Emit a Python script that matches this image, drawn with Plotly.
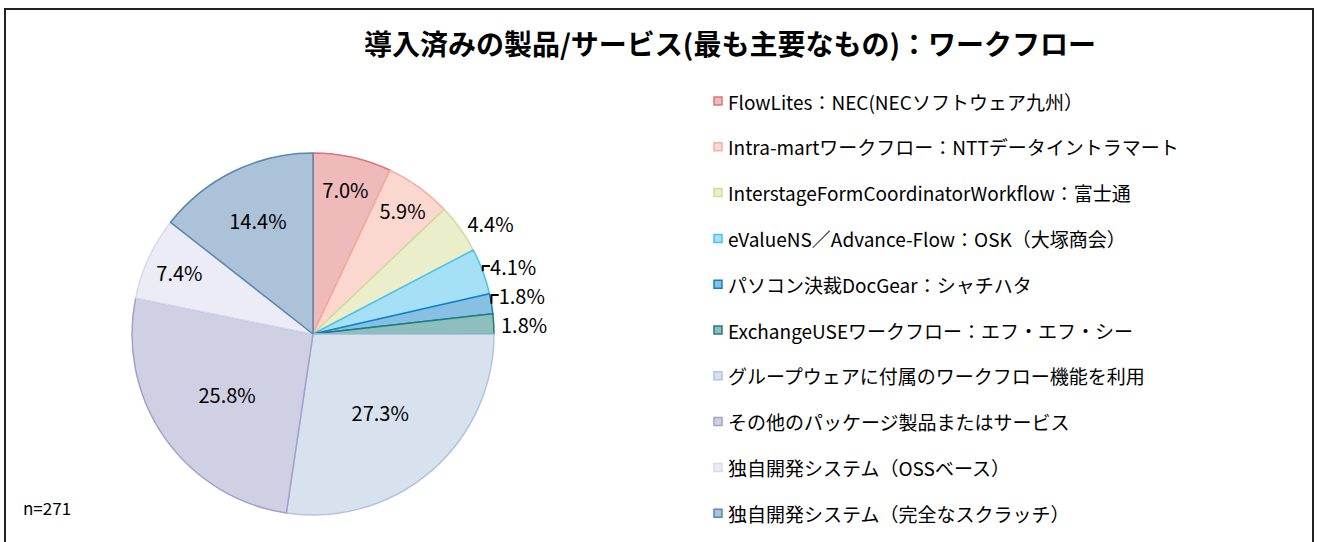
import plotly.graph_objects as go

W, H = 1318, 542

categories = [
    "FlowLites：NEC(NECソフトウェア九州）",
    "Intra-martワークフロー：NTTデータイントラマート",
    "InterstageFormCoordinatorWorkflow：富士通",
    "eValueNS／Advance-Flow：OSK（大塚商会）",
    "パソコン決裁DocGear：シャチハタ",
    "ExchangeUSEワークフロー：エフ・エフ・シー",
    "グループウェアに付属のワークフロー機能を利用",
    "その他のパッケージ製品またはサービス",
    "独自開発システム（OSSベース）",
    "独自開発システム（完全なスクラッチ）",
]
values = [7.0, 5.9, 4.4, 4.1, 1.8, 1.8, 27.3, 25.8, 7.4, 14.4]
edge_colors = ["#DE7475", "#F5B0A0", "#D6DC96", "#4CC1EC", "#1280C8",
               "#1F7E7E", "#B0C5DE", "#A1A1CA", "#D9D9EC", "#5A86B0"]
title_text = "導入済みの製品/サービス(最も主要なもの)：ワークフロー"
n_text = "n=271"


def tint(hexc, f):
    r, g, b = int(hexc[1:3], 16), int(hexc[3:5], 16), int(hexc[5:7], 16)
    r = round(r * f + 255 * (1 - f))
    g = round(g * f + 255 * (1 - f))
    b = round(b * f + 255 * (1 - f))
    return f"rgb({r},{g},{b})"


fill_colors = [tint(c, 0.5) for c in edge_colors]
positions = ["inside" if v >= 5 else "outside" for v in values]


def px(x):
    return x / W


def py(y):
    return 1 - y / H


FONT = "Noto Sans CJK JP"

fig = go.Figure()
fig.add_trace(go.Pie(
    labels=categories,
    values=values,
    sort=False,
    direction="clockwise",
    rotation=0,
    marker=dict(colors=fill_colors, line=dict(color=edge_colors, width=1.5)),
    texttemplate="%{value:.1f}%",
    textposition=positions,
    insidetextorientation="horizontal",
    textfont=dict(family=FONT, size=20, color="#000000"),
    showlegend=False,
    hoverinfo="label+value",
    domain=dict(x=[px(132), px(494)], y=[py(515), py(153)]),
))

annotations = [
    dict(text=f"<b>{title_text}</b>", x=px(730), y=py(43), xref="paper", yref="paper",
         showarrow=False, font=dict(family=FONT, size=28, color="#000000"),
         xanchor="center", yanchor="middle"),
    dict(text=n_text, x=px(21), y=py(507), xref="paper", yref="paper",
         showarrow=False, font=dict(family=FONT, size=17, color="#000000"),
         xanchor="left", yanchor="middle"),
]
shapes = [
    dict(type="rect", xref="paper", yref="paper", x0=px(5), x1=px(1313), y0=py(560), y1=py(9),
         line=dict(color="#222222", width=2), fillcolor="rgba(0,0,0,0)", layer="below"),
]

row0, gap = 101, 45.8
for i, (cat, ec, fc) in enumerate(zip(categories, edge_colors, fill_colors)):
    yc = row0 + i * gap
    shapes.append(dict(type="rect", xref="paper", yref="paper",
                       x0=px(714), x1=px(722), y0=py(yc + 4), y1=py(yc - 4),
                       line=dict(color=ec, width=1.5), fillcolor=fc))
    annotations.append(dict(text=cat, x=px(726), y=py(yc), xref="paper", yref="paper",
                            showarrow=False, xanchor="left", yanchor="middle",
                            font=dict(family=FONT, size=19, color="#000000")))

fig.update_layout(
    width=W, height=H, autosize=False,
    margin=dict(l=0, r=0, t=0, b=0),
    paper_bgcolor="#FFFFFF", plot_bgcolor="#FFFFFF",
    annotations=annotations, shapes=shapes,
    font=dict(family=FONT),
)

fig.write_html("out.html", config={"displayModeBar": False},
               post_script="document.body.style.margin='0';document.body.style.overflow='hidden';")
